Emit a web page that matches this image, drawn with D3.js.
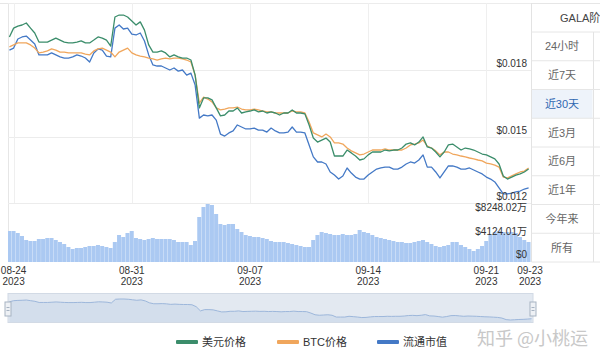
<!DOCTYPE html>
<html>
<head>
<meta charset="utf-8">
<script src="https://cdn.jsdelivr.net/npm/d3@7"></script>
<style>
body { margin: 0; background: #fff; overflow: hidden; }
svg { display: block; font-family: "Liberation Sans", "Noto Sans CJK SC", sans-serif; }
</style>
</head>
<body>
<svg id="chart" width="600" height="354"></svg>
<script>
// 6-hourly samples, the first one at 2023-08-23 18:00
let startTime = new Date(2023, 7, 23, 18);
let stepHours = 6;

// 美元价格
let usdPrice = [
    0.01949, 0.01989, 0.01998, 0.02003, 0.02012, 0.01989, 0.01967, 0.01926, 0.01926, 0.01926,
    0.01935, 0.01944, 0.01935, 0.01926, 0.01922, 0.01922, 0.01926, 0.01931, 0.01922, 0.01922,
    0.01935, 0.01949, 0.01944, 0.01935, 0.01908, 0.02039, 0.02048, 0.02048, 0.02039, 0.02021,
    0.02003, 0.02017, 0.01980, 0.01913, 0.01881, 0.01881, 0.01886, 0.01877, 0.01859, 0.01868,
    0.01859, 0.01854, 0.01854, 0.01845, 0.01777, 0.01629, 0.01674, 0.01674, 0.01665, 0.01629,
    0.01593, 0.01597, 0.01615, 0.01615, 0.01629, 0.01606, 0.01611, 0.01615, 0.01620, 0.01611,
    0.01615, 0.01606, 0.01611, 0.01606, 0.01597, 0.01606, 0.01606, 0.01620, 0.01606, 0.01606,
    0.01602, 0.01552, 0.01493, 0.01475, 0.01484, 0.01493, 0.01475, 0.01412, 0.01412, 0.01412,
    0.01439, 0.01426, 0.01412, 0.01394, 0.01399, 0.01417, 0.01430, 0.01430, 0.01430, 0.01439,
    0.01435, 0.01439, 0.01439, 0.01448, 0.01466, 0.01471, 0.01462, 0.01475, 0.01498, 0.01453,
    0.01448, 0.01430, 0.01408, 0.01430, 0.01462, 0.01466, 0.01453, 0.01439, 0.01448, 0.01444,
    0.01439, 0.01430, 0.01421, 0.01417, 0.01408, 0.01399, 0.01376, 0.01322, 0.01308, 0.01317,
    0.01326, 0.01331, 0.01340, 0.01353
];

// BTC价格 (drawn on the same axis)
let btcPrice = [
    0.01904, 0.01913, 0.01922, 0.01922, 0.01922, 0.01913, 0.01899, 0.01877, 0.01881, 0.01886,
    0.01895, 0.01890, 0.01881, 0.01881, 0.01877, 0.01877, 0.01877, 0.01877, 0.01872, 0.01868,
    0.01886, 0.01895, 0.01899, 0.01890, 0.01881, 0.01859, 0.01881, 0.01890, 0.01899, 0.01877,
    0.01868, 0.01863, 0.01859, 0.01854, 0.01850, 0.01845, 0.01850, 0.01854, 0.01850, 0.01854,
    0.01854, 0.01850, 0.01845, 0.01836, 0.01777, 0.01651, 0.01678, 0.01669, 0.01656, 0.01629,
    0.01620, 0.01624, 0.01629, 0.01629, 0.01633, 0.01624, 0.01620, 0.01620, 0.01624, 0.01620,
    0.01615, 0.01611, 0.01611, 0.01606, 0.01606, 0.01606, 0.01606, 0.01615, 0.01611, 0.01611,
    0.01606, 0.01565, 0.01516, 0.01507, 0.01498, 0.01511, 0.01498, 0.01471, 0.01471, 0.01466,
    0.01448, 0.01435, 0.01426, 0.01417, 0.01421, 0.01430, 0.01439, 0.01439, 0.01439, 0.01444,
    0.01439, 0.01439, 0.01439, 0.01439, 0.01448, 0.01462, 0.01466, 0.01471, 0.01484, 0.01457,
    0.01448, 0.01435, 0.01417, 0.01430, 0.01430, 0.01421, 0.01417, 0.01412, 0.01408, 0.01403,
    0.01399, 0.01394, 0.01390, 0.01380, 0.01376, 0.01371, 0.01362, 0.01317, 0.01313, 0.01322,
    0.01331, 0.01340, 0.01344, 0.01358
];

// 流通市值 (drawn on the same axis)
let marketCap = [
    0.01890, 0.01899, 0.01940, 0.01949, 0.01953, 0.01935, 0.01917, 0.01868, 0.01868, 0.01868,
    0.01877, 0.01868, 0.01859, 0.01854, 0.01854, 0.01859, 0.01868, 0.01863, 0.01854, 0.01836,
    0.01877, 0.01895, 0.01890, 0.01863, 0.01859, 0.01989, 0.02003, 0.01985, 0.01989, 0.01962,
    0.01958, 0.01967, 0.01931, 0.01868, 0.01823, 0.01818, 0.01818, 0.01809, 0.01800, 0.01809,
    0.01795, 0.01800, 0.01777, 0.01786, 0.01732, 0.01583, 0.01597, 0.01593, 0.01597, 0.01574,
    0.01511, 0.01502, 0.01516, 0.01525, 0.01552, 0.01543, 0.01534, 0.01534, 0.01538, 0.01529,
    0.01529, 0.01520, 0.01538, 0.01525, 0.01516, 0.01516, 0.01520, 0.01543, 0.01520, 0.01520,
    0.01516, 0.01462, 0.01408, 0.01385, 0.01385, 0.01376, 0.01340, 0.01326, 0.01308, 0.01322,
    0.01358, 0.01335, 0.01317, 0.01308, 0.01308, 0.01326, 0.01340, 0.01353, 0.01358, 0.01362,
    0.01362, 0.01353, 0.01353, 0.01362, 0.01376, 0.01385, 0.01380, 0.01394, 0.01417, 0.01362,
    0.01362, 0.01340, 0.01313, 0.01340, 0.01367, 0.01367, 0.01362, 0.01353, 0.01353, 0.01358,
    0.01349, 0.01340, 0.01331, 0.01317, 0.01308, 0.01295, 0.01268, 0.01241, 0.01241, 0.01245,
    0.01250, 0.01254, 0.01263, 0.01268
];

// 成交额, 万美元
let volume = [
    4262, 4262, 3987, 3574, 3024, 2887, 2887, 3162, 3162, 3299,
    3299, 3024, 2749, 2474, 2062, 1787, 1925, 1925, 2062, 2200,
    2200, 2337, 2200, 2062, 1925, 2749, 3712, 3437, 3987, 4262,
    3299, 3162, 3024, 3162, 3299, 3162, 3162, 3162, 3162, 3024,
    2749, 2749, 2749, 2337, 2887, 6186, 7561, 7973, 7836, 6599,
    5224, 5086, 5224, 5224, 4537, 4124, 3712, 3574, 3437, 3437,
    3299, 3162, 2887, 2749, 2749, 2749, 2612, 2474, 2337, 2200,
    2062, 2062, 3024, 3712, 4124, 3987, 3849, 3712, 3712, 3849,
    3712, 3712, 3849, 4399, 4124, 3987, 3712, 3437, 3299, 3162,
    3024, 2887, 2749, 2749, 2612, 2612, 2749, 2887, 3024, 2749,
    2474, 2200, 2062, 2200, 2337, 2749, 2749, 2337, 2062, 1787,
    1512, 1787, 2200, 2887, 3712, 4124, 4262, 4124, 4124, 4124,
    3987, 3437, 3024, 2749
];

let priceTicks = [0.012, 0.015, 0.018, 0.021];
let volumeTicks = [0, 4124.01, 8248.02];
let dateTicks = [new Date(2023, 7, 24), new Date(2023, 7, 31), new Date(2023, 8, 7),
    new Date(2023, 8, 14), new Date(2023, 8, 21), new Date(2023, 8, 23, 14)];
let periods = ["24小时", "近7天", "近30天", "近3月", "近6月", "近1年", "今年来", "所有"];
let legendNames = ["美元价格", "BTC价格", "流通市值"];
let colors = ["#3b8d6b", "#f0a65c", "#4479c6"];

let svg = d3.select("#chart");
let times = usdPrice.map(function(d, i) { return d3.timeHour.offset(startTime, i * stepHours); });

// scales
let x = d3.scaleTime()
    .domain([new Date(2023, 7, 23, 16), new Date(2023, 8, 23, 14)])
    .range([8, 530]);
let yPrice = d3.scaleLinear().domain([0.012, 0.018]).range([203, 70]);
let yVol = d3.scaleLinear().domain([0, 8248.02]).range([262, 202]);

// grid
svg.append("line").attr("x1", 0).attr("x2", 600).attr("y1", 3.5).attr("y2", 3.5).attr("stroke", "#e6e6e6");
svg.append("line").attr("x1", 8.5).attr("x2", 8.5).attr("y1", 3).attr("y2", 262).attr("stroke", "#e6e6e6");
svg.selectAll(".hgrid")
    .data(priceTicks)
    .enter().append("line")
    .attr("x1", 8).attr("x2", 531)
    .attr("y1", function(d) { return Math.round(yPrice(d)) + 0.5; })
    .attr("y2", function(d) { return Math.round(yPrice(d)) + 0.5; })
    .attr("stroke", "#ececec");
svg.selectAll(".vgrid")
    .data(dateTicks.slice(0, 5))
    .enter().append("line")
    .attr("x1", function(d) { return Math.round(x(d)) + 0.5; })
    .attr("x2", function(d) { return Math.round(x(d)) + 0.5; })
    .attr("y1", 3).attr("y2", 203)
    .attr("stroke", "#efefef");

// volume bars
let barW = x(d3.timeHour.offset(startTime, stepHours)) - x(startTime);
svg.append("clipPath").attr("id", "plotClip")
    .append("rect").attr("x", 8).attr("y", 0).attr("width", 523).attr("height", 262);
svg.append("g")
    .attr("clip-path", "url(#plotClip)")
    .selectAll("rect")
    .data(volume)
    .enter().append("rect")
    .attr("x", function(d, i) { return x(times[i]) - barW / 2; })
    .attr("width", barW - 0.2)
    .attr("y", function(d) { return yVol(d); })
    .attr("height", function(d) { return yVol(0) - yVol(d); })
    .attr("fill", "#abc9f2");

// price lines
let series = [usdPrice, btcPrice, marketCap];
let drawOrder = [2, 1, 0];
drawOrder.forEach(function(k) {
    svg.append("path")
        .datum(series[k])
        .attr("fill", "none")
        .attr("stroke", colors[k])
        .attr("stroke-width", 1.3)
        .attr("stroke-linejoin", "round")
        .attr("clip-path", "url(#plotClip)")
        .attr("d", d3.line()
            .x(function(d, i) { return x(times[i]); })
            .y(function(d) { return yPrice(d); }));
});

// y labels
let fmtPrice = d3.format(".3f");
svg.selectAll(".plabel")
    .data(priceTicks.slice(0, 3))
    .enter().append("text")
    .attr("x", 527)
    .attr("y", function(d) { return yPrice(d) - 3; })
    .attr("text-anchor", "end")
    .attr("font-size", 10)
    .attr("fill", "#333")
    .text(function(d) { return "$" + fmtPrice(d); });

let volOffsets = [-4, 3, 9];
svg.selectAll(".vlabel")
    .data(volumeTicks)
    .enter().append("text")
    .attr("x", 527)
    .attr("y", function(d, i) { return yVol(d) + volOffsets[i]; })
    .attr("text-anchor", "end")
    .attr("font-size", 10)
    .attr("fill", "#333")
    .text(function(d) { return d === 0 ? "$0" : "$" + d3.format(".2f")(d) + "万"; });

// x labels
let fmtDay = d3.timeFormat("%m-%d");
let fmtYear = d3.timeFormat("%Y");
let xl = svg.selectAll(".xlabel")
    .data(dateTicks)
    .enter().append("text")
    .attr("text-anchor", "middle")
    .attr("font-size", 10)
    .attr("fill", "#333");
xl.append("tspan")
    .attr("x", function(d) { return x(d); })
    .attr("y", 274)
    .text(function(d) { return fmtDay(d); });
xl.append("tspan")
    .attr("x", function(d) { return x(d); })
    .attr("y", 285)
    .text(function(d) { return fmtYear(d); });

// side panel
let panelX = 531.5, rowTop = 32, rowH = 28.75;
svg.append("rect")
    .attr("x", panelX).attr("y", rowTop + rowH * 2)
    .attr("width", 61).attr("height", rowH)
    .attr("fill", "#eef3fa");
svg.append("line").attr("x1", panelX).attr("x2", panelX).attr("y1", 3).attr("y2", 262).attr("stroke", "#e3e3e3");
svg.append("line").attr("x1", 593.5).attr("x2", 593.5).attr("y1", rowTop).attr("y2", 262).attr("stroke", "#e3e3e3");
svg.selectAll(".prow")
    .data(d3.range(periods.length + 1))
    .enter().append("line")
    .attr("x1", panelX).attr("x2", 600)
    .attr("y1", function(d) { return rowTop + d * rowH; })
    .attr("y2", function(d) { return rowTop + d * rowH; })
    .attr("stroke", "#e6e6e6");
svg.append("text")
    .attr("x", 560).attr("y", 22)
    .attr("font-size", 11)
    .attr("fill", "#444")
    .text("GALA阶段涨幅");
svg.selectAll(".ptext")
    .data(periods)
    .enter().append("text")
    .attr("x", 562)
    .attr("y", function(d, i) { return rowTop + rowH * i + rowH / 2 + 4; })
    .attr("text-anchor", "middle")
    .attr("font-size", 11)
    .attr("fill", function(d, i) { return i === 2 ? "#2f67b1" : "#666"; })
    .text(function(d) { return d; });

// navigator
let xNav = d3.scaleTime().domain(x.domain()).range([8, 533]);
let yNav = d3.scaleLinear().domain(d3.extent(usdPrice)).range([320, 299]);
svg.append("rect")
    .attr("x", 8).attr("y", 293.5).attr("width", 525).attr("height", 29)
    .attr("fill", "#e3e9f1").attr("stroke", "#d2dae5");
svg.append("path")
    .datum(usdPrice)
    .attr("fill", "#d3deec")
    .attr("d", d3.area()
        .x(function(d, i) { return xNav(times[i]); })
        .y0(322)
        .y1(function(d) { return yNav(d); }));
svg.append("path")
    .datum(usdPrice)
    .attr("fill", "none")
    .attr("stroke", "#9db7db")
    .attr("stroke-width", 1)
    .attr("d", d3.line()
        .x(function(d, i) { return xNav(times[i]); })
        .y(function(d) { return yNav(d); }));
[8, 533].forEach(function(hx) {
    svg.append("rect")
        .attr("x", hx - 3).attr("y", 302).attr("width", 6).attr("height", 14)
        .attr("fill", "#eef1f5").attr("stroke", "#a7b3c2");
    svg.append("line").attr("x1", hx - 1.5).attr("x2", hx + 1.5).attr("y1", 307.5).attr("y2", 307.5).attr("stroke", "#a7b3c2");
    svg.append("line").attr("x1", hx - 1.5).attr("x2", hx + 1.5).attr("y1", 310.5).attr("y2", 310.5).attr("stroke", "#a7b3c2");
});

// legend
let legendX = [176, 277, 377];
legendNames.forEach(function(name, i) {
    svg.append("rect")
        .attr("x", legendX[i]).attr("y", 340)
        .attr("width", 22).attr("height", 4).attr("rx", 1)
        .attr("fill", colors[i]);
    svg.append("text")
        .attr("x", legendX[i] + 26).attr("y", 346)
        .attr("font-size", 11)
        .attr("fill", "#333")
        .text(name);
});

// watermark
svg.append("text")
    .attr("x", 477).attr("y", 345)
    .attr("font-size", 18)
    .attr("fill", "#c8c8c8")
    .attr("font-family", "Noto Sans CJK SC")
    .text("知乎 @小桃运");
</script>
</body>
</html>
